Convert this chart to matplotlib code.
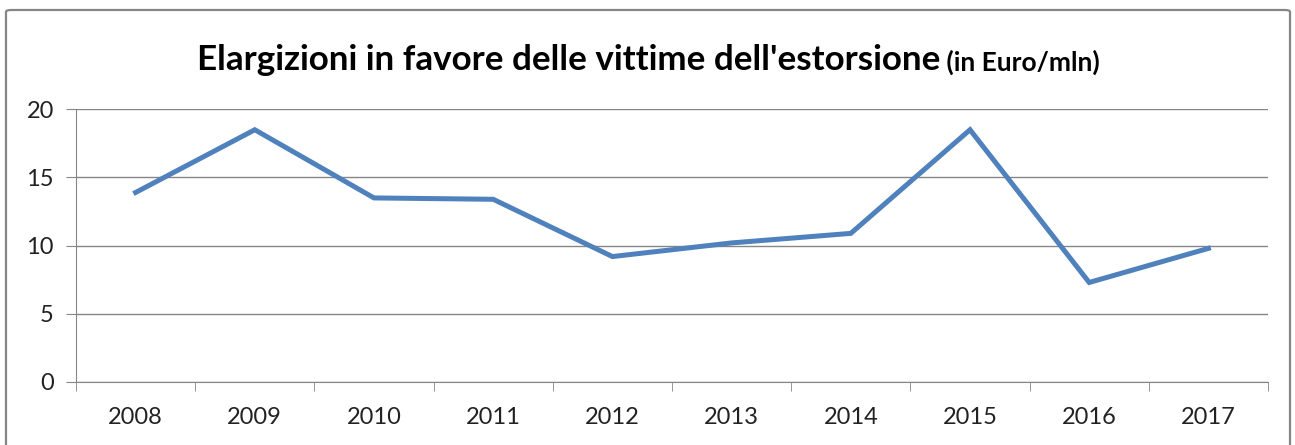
import matplotlib
matplotlib.use("Agg")
import matplotlib.pyplot as plt
from matplotlib.patches import FancyBboxPatch

anni = ["2008", "2009", "2010", "2011", "2012", "2013", "2014", "2015", "2016", "2017"]
elargizioni = [13.9, 18.5, 13.5, 13.4, 9.2, 10.2, 10.9, 18.5, 7.3, 9.8]

W, H = 1295, 445
fig = plt.figure(figsize=(W / 100, H / 100), dpi=100)
plt.rcParams['font.family'] = ['Lato', 'DejaVu Sans']

# cornice grigia del grafico
cornice = FancyBboxPatch((6 / W, -20 / H), 1284 / W, (H - 10 + 20) / H,
                         boxstyle="round,pad=0,rounding_size=0.004",
                         transform=fig.transFigure, fill=False,
                         edgecolor="#868686", linewidth=1.6)
fig.patches.append(cornice)

ax = fig.add_axes([76 / W, 1 - 382 / H, (1268 - 76) / W, (382 - 109.3) / H])
x = list(range(len(anni)))
ax.plot(x, elargizioni, color="#4F81BD", linewidth=3.6, solid_joinstyle="miter")

ax.set_xlim(-0.5, len(anni) - 0.5)
ax.set_ylim(0, 20)
ax.set_yticks([0, 5, 10, 15, 20])
ax.set_xticks(x)
ax.set_xticklabels(anni)
ax.set_xticks([i - 0.5 for i in range(len(anni) + 1)], minor=True)

ax.grid(axis="y", color="#868686", linewidth=1)
ax.set_axisbelow(True)
for s in ["top", "right"]:
    ax.spines[s].set_visible(False)
ax.spines["left"].set_color("#868686")
ax.spines["bottom"].set_color("#868686")

ax.tick_params(axis="y", length=7, color="#868686", pad=9, labelsize=17, labelcolor="#222222")
ax.tick_params(axis="x", which="major", length=0, pad=18, labelsize=17, labelcolor="#222222")
ax.tick_params(axis="x", which="minor", length=6.5, color="#868686")

t1 = fig.text(197 / W, 1 - 70 / H, "Elargizioni in favore delle vittime dell'estorsione",
              fontsize=25.2, fontweight="bold", ha="left", va="baseline")
ax.annotate(" (in Euro/mln)", xy=(1, 0), xycoords=t1, xytext=(0, 1), textcoords="offset points",
            fontsize=19, fontweight="bold", ha="left", va="bottom", annotation_clip=False)

fig.savefig("out.png", dpi=100)
